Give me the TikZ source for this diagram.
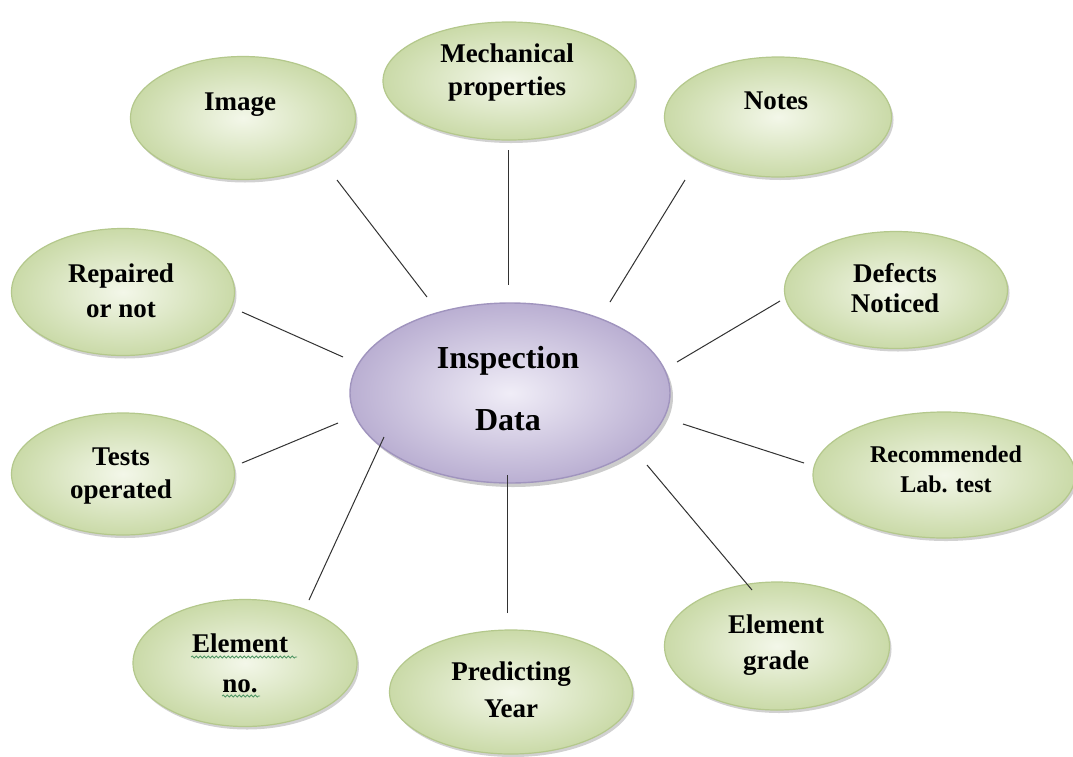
\documentclass[tikz,border=0pt]{standalone}
\usepackage{fontspec}
\setmainfont{Liberation Serif}
\usetikzlibrary{shapes.geometric,shadows,decorations.pathmorphing}
\definecolor{gOut}{RGB}{202,218,168}
\definecolor{gIn}{RGB}{243,247,233}
\definecolor{gRim}{RGB}{180,200,140}
\definecolor{pOut}{RGB}{186,175,210}
\definecolor{pIn}{RGB}{240,237,247}
\definecolor{pRim}{RGB}{160,148,190}
\definecolor{lineC}{RGB}{50,50,50}
\definecolor{squig}{RGB}{80,150,100}
\newcommand\tlab[3]{\vtop{\lineskiplimit=-100pt\baselineskip=#1pt\halign{\hfil##\hfil\cr #2\cr #3\cr}}}
\tikzset{
  leaf/.style={ellipse, inner sep=0pt, shading=radial, inner color=gIn, outer color=gOut,
    draw=gRim, line width=1.2pt,
    drop shadow={shadow xshift=2pt, shadow yshift=-3pt, fill=black, opacity=0.18}},
  hub/.style={ellipse, inner sep=0pt, shading=radial, inner color=pIn, outer color=pOut,
    draw=pRim, line width=1.4pt,
    drop shadow={shadow xshift=3pt, shadow yshift=-4pt, fill=black, opacity=0.2}},
  lab/.style={inner sep=0pt, anchor=base, font=\fontsize{27}{31}\selectfont\bfseries},
  hublab/.style={inner sep=0pt, anchor=base, font=\fontsize{32}{36}\selectfont\bfseries},
  conn/.style={draw=lineC, line width=1pt},
  wavy/.style={draw=squig, line width=0.8pt, decorate, decoration={snake, amplitude=1pt, segment length=4pt}}
}
\begin{document}
\begin{tikzpicture}[x=1pt,y=-1pt]
\useasboundingbox[fill=white] (0,0) rectangle (1073,756);
% ellipses
\node[hub,  minimum width=320pt, minimum height=180pt] (hub)   at (510,393) {};
\node[leaf, minimum width=225pt, minimum height=123pt] (img)   at (243,118) {};
\node[leaf, minimum width=252pt, minimum height=118pt] (mech)  at (509,81)  {};
\node[leaf, minimum width=227pt, minimum height=120pt] (notes) at (778,117) {};
\node[leaf, minimum width=223pt, minimum height=127pt] (rep)   at (123,292) {};
\node[leaf, minimum width=223pt, minimum height=117pt] (def)   at (896,290) {};
\node[leaf, minimum width=223pt, minimum height=122pt] (tests) at (123,474) {};
\node[leaf, minimum width=262pt, minimum height=126pt] (rec)   at (944,475) {};
\node[leaf, minimum width=224pt, minimum height=127pt] (elno)  at (245,663) {};
\node[leaf, minimum width=243pt, minimum height=124pt] (pred)  at (511,692) {};
\node[leaf, minimum width=225pt, minimum height=128pt] (elgr)  at (777,646) {};
% texts
\node[hublab] (hubT) at (508,368) {\tlab{62}{Inspection}{Data}};
\node[lab] (imgT)   at (240,110) {Image};
\node[lab] (mechT)  at (507,62)  {\tlab{33}{Mechanical}{properties}};
\node[lab] (notesT) at (776,109) {Notes};
\node[lab] (repT)   at (121,282) {\tlab{35}{Repaired}{or not}};
\node[lab] (defT)   at (895,282) {\tlab{30}{Defects}{Noticed}};
\node[lab] (testsT) at (121,465) {\tlab{33}{Tests}{operated}};
\node[lab, font=\fontsize{24}{28}\selectfont\bfseries] (recT) at (946,462) {\tlab{30}{Recommended}{Lab. test}};
\node[lab] (elnoT)  at (240,652) {\tlab{40}{Element}{no.}};
\node[lab] (predT)  at (511,680) {\tlab{37}{Predicting}{Year}};
\node[lab] (elgrT)  at (776,633) {\tlab{36}{Element}{grade}};
% spell-check squiggles
\draw[wavy] (191,657) -- (297,657);
\draw[wavy] (222,696) -- (260,696);
% connector ends
\coordinate (imgA) at (337,180);   \coordinate (imgB) at (427,297);
\coordinate (mechA) at (508,150);  \coordinate (mechB) at (508,285);
\coordinate (notesA) at (685,180); \coordinate (notesB) at (610,302);
\coordinate (repA) at (242,312);   \coordinate (repB) at (343,357);
\coordinate (defA) at (780,301);   \coordinate (defB) at (677,362);
\coordinate (testsA) at (242,463); \coordinate (testsB) at (338,423);
\coordinate (recA) at (804,463);   \coordinate (recB) at (683,424);
\coordinate (elnoA) at (309,600);  \coordinate (elnoB) at (384,437);
\coordinate (predA) at (507,613);  \coordinate (predB) at (507,475);
\coordinate (elgrA) at (752,590);  \coordinate (elgrB) at (647,465);
\draw[conn] (imgA) -- (imgB);
\draw[conn] (mechA) -- (mechB);
\draw[conn] (notesA) -- (notesB);
\draw[conn] (repA) -- (repB);
\draw[conn] (defA) -- (defB);
\draw[conn] (testsA) -- (testsB);
\draw[conn] (recA) -- (recB);
\draw[conn] (elnoA) -- (elnoB);
\draw[conn] (predA) -- (predB);
\draw[conn] (elgrA) -- (elgrB);
\end{tikzpicture}
\end{document}
